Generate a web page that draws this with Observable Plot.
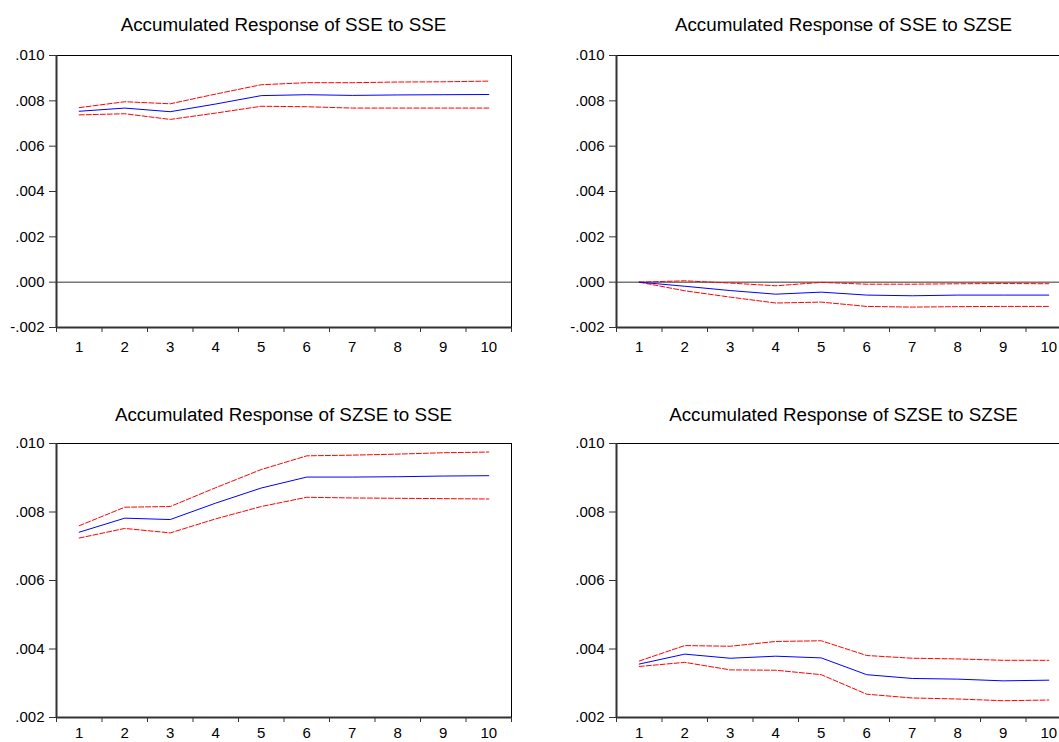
<!DOCTYPE html>
<html><head><meta charset="utf-8">
<script src="https://cdn.jsdelivr.net/npm/d3@7"></script>
<script src="https://cdn.jsdelivr.net/npm/@observablehq/plot@0.6"></script>
<style>
html,body{margin:0;padding:0;background:#fff;overflow:hidden;width:1059px;height:742px;}
#root{position:relative;width:1059px;height:742px;overflow:hidden;font-family:"Liberation Sans",Arial,sans-serif;background:#fff;}
.panel{position:absolute;}
.title{position:absolute;width:600px;text-align:center;font-size:18.8px;line-height:1;color:#000;white-space:nowrap;z-index:2;}
</style></head><body><div id="root"></div>
<script>
const periods = [1, 2, 3, 4, 5, 6, 7, 8, 9, 10];

const titles = [
  "Accumulated Response of SSE to SSE",
  "Accumulated Response of SSE to SZSE",
  "Accumulated Response of SZSE to SSE",
  "Accumulated Response of SZSE to SZSE"
];

const yTicksTop = [-0.002, 0.000, 0.002, 0.004, 0.006, 0.008, 0.010];
const yTicksBottom = [0.002, 0.004, 0.006, 0.008, 0.010];

// SSE to SSE
const sseSseResp  = [0.00754, 0.00768, 0.00752, 0.00786, 0.00823, 0.00827, 0.00824, 0.00826, 0.00827, 0.00828];
const sseSseUpper = [0.00770, 0.00796, 0.00787, 0.00830, 0.00871, 0.00880, 0.00880, 0.00883, 0.00884, 0.00887];
const sseSseLower = [0.00738, 0.00743, 0.00718, 0.00746, 0.00776, 0.00774, 0.00768, 0.00768, 0.00768, 0.00768];

// SSE to SZSE
const sseSzseResp  = [0.00000, -0.00018, -0.00037, -0.00053, -0.00044, -0.00057, -0.00060, -0.00057, -0.00057, -0.00057];
const sseSzseUpper = [0.00000, 0.00006, -0.00004, -0.00016, -0.00001, -0.00009, -0.00009, -0.00007, -0.00006, -0.00007];
const sseSzseLower = [0.00000, -0.00038, -0.00066, -0.00092, -0.00088, -0.00107, -0.00110, -0.00108, -0.00107, -0.00107];

// SZSE to SSE
const szseSseResp  = [0.00741, 0.00782, 0.00778, 0.00826, 0.00870, 0.00902, 0.00902, 0.00903, 0.00905, 0.00906];
const szseSseUpper = [0.00760, 0.00814, 0.00816, 0.00871, 0.00924, 0.00964, 0.00966, 0.00969, 0.00973, 0.00975];
const szseSseLower = [0.00724, 0.00752, 0.00739, 0.00780, 0.00816, 0.00843, 0.00841, 0.00840, 0.00839, 0.00838];

// SZSE to SZSE
const szseSzseResp  = [0.00356, 0.00385, 0.00373, 0.00379, 0.00374, 0.00325, 0.00314, 0.00312, 0.00307, 0.00309];
const szseSzseUpper = [0.00365, 0.00410, 0.00408, 0.00422, 0.00424, 0.00381, 0.00373, 0.00371, 0.00367, 0.00367];
const szseSzseLower = [0.00349, 0.00361, 0.00339, 0.00338, 0.00325, 0.00268, 0.00257, 0.00254, 0.00249, 0.00251];

const fmt = v => {
  const s = d3.format(".3f")(Math.abs(v)).replace(/^0\./, ".");
  return (v < -1e-12 ? "-" : "") + s;
};

const root = document.getElementById("root");

function panel({resp, upper, lower, yDomain, yTicks, zero, title, left, top, height, marginTop, marginBottom, titleTop, xPad}) {
  const bounds = periods.map(p => p - 0.5).concat([periods[periods.length - 1] + 0.5]);
  const marks = [
    Plot.frame({stroke: "#000", strokeWidth: 1}),
    Plot.ruleX([bounds[0]], {stroke: "#333", strokeWidth: 2}),
    Plot.ruleY([yDomain[0]], {stroke: "#333", strokeWidth: 2}),
    Plot.axisY({ticks: yTicks, tickFormat: fmt, tickSize: 7, tickPadding: 5, label: null, stroke: "#333"}),
    Plot.axisX({ticks: bounds, tickSize: 5, tickFormat: () => "", label: null, stroke: "#333"}),
    Plot.axisX({ticks: periods, tickSize: 0, tickPadding: xPad, tickFormat: d => String(d), label: null})
  ];
  if (zero) marks.push(Plot.ruleY([0], {stroke: "#333", strokeWidth: 1}));
  marks.push(
    Plot.lineY(upper, {x: periods, stroke: "#ff0000", strokeWidth: 1, strokeDasharray: "5,2"}),
    Plot.lineY(lower, {x: periods, stroke: "#ff0000", strokeWidth: 1, strokeDasharray: "5,2"}),
    Plot.lineY(resp, {x: periods, stroke: "#0000ff", strokeWidth: 1})
  );
  const svg = Plot.plot({
    width: 520,
    height,
    marginLeft: 56,
    marginRight: 9,
    marginTop,
    marginBottom,
    style: {fontSize: "15px", fontFamily: '"Liberation Sans", Arial, sans-serif', color: "#000", background: "transparent", maxWidth: "none", overflow: "visible"},
    x: {type: "linear", domain: [bounds[0], bounds[bounds.length - 1]]},
    y: {type: "linear", domain: yDomain},
    marks
  });
  svg.classList.add("panel");
  svg.style.left = left + "px";
  svg.style.top = top + "px";
  svg.style.maxWidth = "none";
  root.appendChild(svg);
  const t = document.createElement("div");
  t.className = "title";
  t.textContent = title;
  t.style.left = (left + (56 + 511) / 2 - 300) + "px";
  t.style.top = titleTop + "px";
  root.appendChild(t);
}

panel({resp: sseSseResp, upper: sseSseUpper, lower: sseSseLower, yDomain: [-0.002, 0.010], yTicks: yTicksTop, zero: true,
  title: titles[0], left: 0, top: 0, height: 360, marginTop: 55, marginBottom: 33, titleTop: 16, xPad: 14});
panel({resp: sseSzseResp, upper: sseSzseUpper, lower: sseSzseLower, yDomain: [-0.002, 0.010], yTicks: yTicksTop, zero: true,
  title: titles[1], left: 560, top: 0, height: 360, marginTop: 55, marginBottom: 33, titleTop: 16, xPad: 14});
panel({resp: szseSseResp, upper: szseSseUpper, lower: szseSseLower, yDomain: [0.002, 0.010], yTicks: yTicksBottom, zero: false,
  title: titles[2], left: 0, top: 389, height: 353, marginTop: 54, marginBottom: 25, titleTop: 406, xPad: 10});
panel({resp: szseSzseResp, upper: szseSzseUpper, lower: szseSzseLower, yDomain: [0.002, 0.010], yTicks: yTicksBottom, zero: false,
  title: titles[3], left: 560, top: 389, height: 353, marginTop: 54, marginBottom: 25, titleTop: 406, xPad: 10});
</script>
</body></html>
